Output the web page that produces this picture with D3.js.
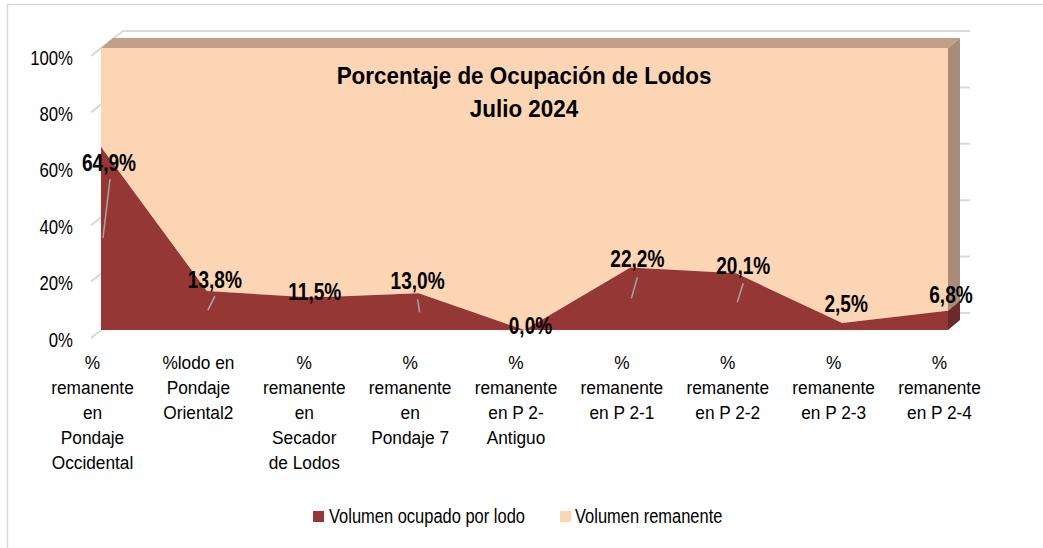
<!DOCTYPE html>
<html>
<head>
<meta charset="utf-8">
<script src="https://cdn.jsdelivr.net/npm/d3@7/dist/d3.min.js"></script>
<style>
  html, body { margin: 0; padding: 0; background: #ffffff; }
  svg { display: block; }
  text { font-family: "Liberation Sans", Arial, sans-serif; fill: #000; }
</style>
</head>
<body>
<svg id="chart" width="1043" height="548"></svg>
<script>
// ---------------- data ----------------
const categories = [
  "%\nremanente\nen\nPondaje\nOccidental",
  "%lodo en\nPondaje\nOriental2",
  "%\nremanente\nen\nSecador\nde Lodos",
  "%\nremanente\nen\nPondaje 7",
  "%\nremanente\nen P 2-\nAntiguo",
  "%\nremanente\nen P 2-1",
  "%\nremanente\nen P 2-2",
  "%\nremanente\nen P 2-3",
  "%\nremanente\nen P 2-4"
];
const seriesNames = ["Volumen ocupado por lodo", "Volumen remanente"];
const occupied  = [64.9, 13.8, 11.5, 13.0, 0.0, 22.2, 20.1, 2.5, 6.8];
const remaining = [35.1, 86.2, 88.5, 87.0, 100.0, 77.8, 79.9, 97.5, 93.2];
const yTicks = [0, 20, 40, 60, 80, 100];
const titleLines = ["Porcentaje de Ocupación de Lodos", "Julio 2024"];

// ---------------- layout (not data) ----------------
const colors = { occ: "#953735", rem: "#FCD5B5", remTop: "#C29F88", remSide: "#A88B79", occSide: "#6B2927", grid: "#d9d9d9" };
const front = { left: 101, right: 948, top: 48, bottom: 330 };
const serDepth = [12, -10];
const wallDepth = [22, -17];
const boxFront = [-10, 8];
// manual label nudges relative to data point [dx, dy-baseline]
const labelNudge = [[8,24],[8,-3],[2,2],[-1,-4],[6,4],[7,0],[7,1],[4,-11],[3,-8]];
const leaderLines = [[9,32,2,91],[8,5,1,19],null,[-1,6,1,19],null,[7,10,1,31],[7,10,1,29],null,null];

const svg = d3.select("#chart");

// border
svg.append("rect").attr("x", 7.5).attr("y", 4.5).attr("width", 1045).attr("height", 560)
  .attr("fill", "#fff").attr("stroke", "#d9d9d9").attr("stroke-width", 1.5);

const x = d3.scalePoint().domain(d3.range(categories.length)).range([front.left, front.right]).padding(0);
const y = d3.scaleLinear().domain([0, 100]).range([front.bottom, front.top]);

function textAt(sel, tx, ty, sx) {
  return sel.attr("x", 0).attr("y", 0).attr("transform", `translate(${tx},${ty}) scale(${sx},1)`);
}

// walls gridlines (drawn first, covered by series)
const grid = svg.append("g").attr("stroke", colors.grid).attr("stroke-width", 2).attr("fill", "none");
yTicks.forEach(t => {
  const yy = y(t);
  grid.append("path").attr("d",
    `M${front.left + boxFront[0]},${yy + boxFront[1]} L${front.left + wallDepth[0]},${yy + wallDepth[1]} L${front.right + wallDepth[0]},${yy + wallDepth[1]}`);
});

// stack
const rows = categories.map((c, i) => ({ i, occ: occupied[i], rem: remaining[i] }));
const stack = d3.stack().keys(["occ", "rem"])(rows);

const area = d3.area().x(d => x(d.data.i)).y0(d => y(d[0])).y1(d => y(d[1])).curve(d3.curveLinear);

// front faces
svg.append("path").datum(stack[1]).attr("d", area).attr("fill", colors.rem);
svg.append("path").datum(stack[0]).attr("d", area).attr("fill", colors.occ);

// top face of the upper series
const topPts = [[x(0), y(100)], [x(8), y(100)], [x(8) + serDepth[0], y(100) + serDepth[1]], [x(0) + serDepth[0], y(100) + serDepth[1]]];
svg.append("path").attr("d", d3.line()(topPts) + "Z").attr("fill", colors.remTop);

// right side faces
const last = categories.length - 1;
const sideFace = (v0, v1, fill) => {
  const xr = x(last);
  const pts = [[xr, y(v0)], [xr, y(v1)], [xr + serDepth[0], y(v1) + serDepth[1]], [xr + serDepth[0], y(v0) + serDepth[1]]];
  svg.append("path").attr("d", d3.line()(pts) + "Z").attr("fill", fill);
};
sideFace(stack[1][last][0], stack[1][last][1], colors.remSide);
sideFace(stack[0][last][0], stack[0][last][1], colors.occSide);

// leader lines
const leaders = svg.append("g").attr("stroke", "#a6a6a6").attr("stroke-width", 1.5);
occupied.forEach((v, i) => {
  const L = leaderLines[i];
  if (!L) return;
  const px = x(i), py = y(v);
  leaders.append("line").attr("x1", px + L[0]).attr("y1", py + L[1]).attr("x2", px + L[2]).attr("y2", py + L[3]);
});

// data labels
const loc = d3.formatLocale({ decimal: ",", thousands: ".", grouping: [3], currency: ["", "€"] });
const fmtPct = loc.format(".1%");
const dl = svg.append("g");
occupied.forEach((v, i) => {
  const px = x(i), py = y(v);
  textAt(dl.append("text"), px + labelNudge[i][0], py + labelNudge[i][1], 0.83)
    .attr("text-anchor", "middle").attr("font-size", 23).attr("font-weight", "bold")
    .text(fmtPct(v / 100));
});

// Y axis (labels at front of the floor box)
const yAxis = d3.axisLeft(y).tickValues(yTicks).tickSize(0).tickPadding(0).tickFormat(d => d + "%");
const yg = svg.append("g").attr("transform", `translate(73,16)`).call(yAxis);
yg.select(".domain").remove();
yg.selectAll(".tick text")
  .attr("x", 0).attr("dy", null).attr("y", 0)
  .attr("transform", "scale(0.86,1)")
  .attr("text-anchor", "end").attr("font-size", 19.5)
  .attr("font-family", "Liberation Sans, Arial, sans-serif").attr("fill", "#000");

// X axis category labels
const xAxis = d3.axisBottom(x).tickSize(0).tickPadding(0).tickFormat(i => "");
const xg = svg.append("g").attr("transform", `translate(${boxFront[0] + 1},369)`).call(xAxis);
xg.select(".domain").remove();
xg.selectAll(".tick").each(function(i) {
  const t = d3.select(this).select("text")
    .attr("y", 0).attr("dy", null).attr("text-anchor", "middle")
    .attr("font-size", 18).attr("transform", "scale(0.96,1)")
    .attr("font-family", "Liberation Sans, Arial, sans-serif").attr("fill", "#000");
  categories[i].split("\n").forEach((line, k) => {
    t.append("tspan").attr("x", 0).attr("y", k * 25).text(line);
  });
});

// title
const title = svg.append("g");
titleLines.forEach((line, k) => {
  textAt(title.append("text"), 524, 84 + k * 33, 0.915)
    .attr("text-anchor", "middle").attr("font-size", 24.5).attr("font-weight", "bold").text(line);
});

// legend
const legendItems = [
  { name: seriesNames[0], color: colors.occ, sx: 313, tx: 329 },
  { name: seriesNames[1], color: colors.rem, sx: 560, tx: 575 }
];
const lg = svg.append("g");
legendItems.forEach(d => {
  lg.append("rect").attr("x", d.sx).attr("y", 511).attr("width", 11).attr("height", 11).attr("fill", d.color);
  textAt(lg.append("text"), d.tx, 523, 0.785).attr("font-size", 21).text(d.name);
});
</script>
</body>
</html>
